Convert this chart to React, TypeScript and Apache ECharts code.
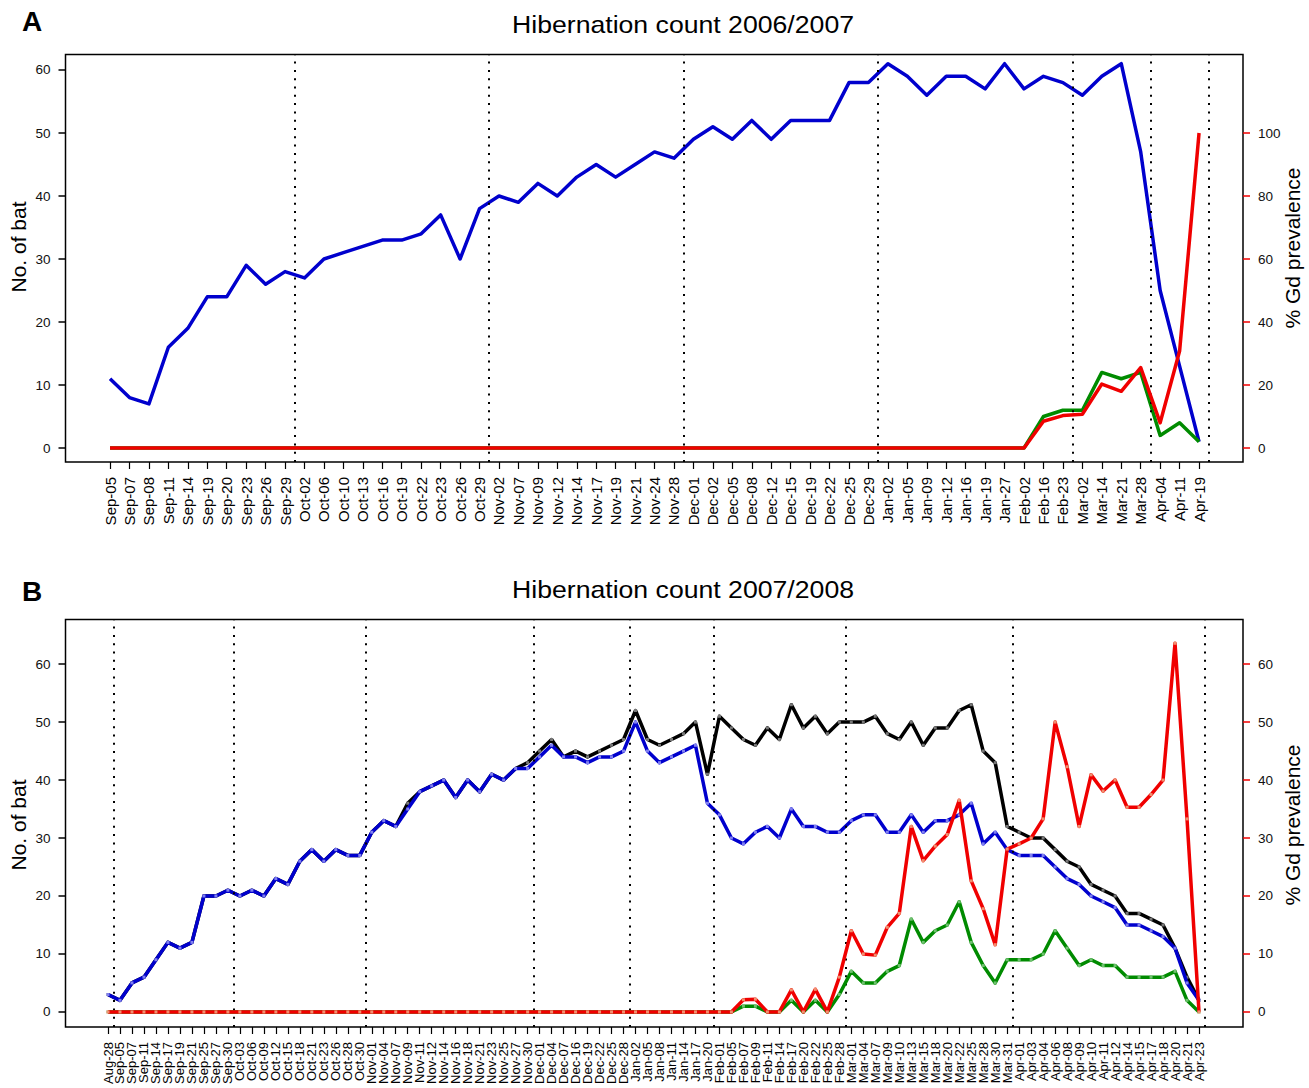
import React, { useEffect, useRef } from "react";
import * as echarts from "echarts";

const FONT = '"Liberation Sans", Arial, Helvetica, sans-serif';

// ---------- Panel A: 2006/2007 ----------
const catsA = [
  "Sep-05", "Sep-07", "Sep-08", "Sep-11", "Sep-14", "Sep-19", "Sep-20", "Sep-23", "Sep-26", "Sep-29",
  "Oct-02", "Oct-06", "Oct-10", "Oct-13", "Oct-16", "Oct-19", "Oct-22", "Oct-23", "Oct-26", "Oct-29",
  "Nov-02", "Nov-07", "Nov-09", "Nov-12", "Nov-14", "Nov-17", "Nov-19", "Nov-21", "Nov-24", "Nov-28",
  "Dec-01", "Dec-02", "Dec-05", "Dec-08", "Dec-12", "Dec-15", "Dec-19", "Dec-22", "Dec-25", "Dec-29",
  "Jan-02", "Jan-05", "Jan-09", "Jan-12", "Jan-16", "Jan-19", "Jan-27",
  "Feb-02", "Feb-16", "Feb-23",
  "Mar-02", "Mar-14", "Mar-21", "Mar-28",
  "Apr-04", "Apr-11", "Apr-19",
];
const batsA = [
  11, 8, 7, 16, 19, 24, 24, 29, 26, 28,
  27, 30, 31, 32, 33, 33, 34, 37, 30, 38,
  40, 39, 42, 40, 43, 45, 43, 45, 47, 46,
  49, 51, 49, 52, 49, 52, 52, 52, 58, 58,
  61, 59, 56, 59, 59, 57, 61,
  57, 59, 58,
  56, 59, 61, 47,
  25, 13, 1,
];
const infectedA = [
  0, 0, 0, 0, 0, 0, 0, 0, 0, 0,
  0, 0, 0, 0, 0, 0, 0, 0, 0, 0,
  0, 0, 0, 0, 0, 0, 0, 0, 0, 0,
  0, 0, 0, 0, 0, 0, 0, 0, 0, 0,
  0, 0, 0, 0, 0, 0, 0,
  0, 5, 6,
  6, 12, 11, 12,
  2, 4, 1,
];
const prevalenceA = [
  0, 0, 0, 0, 0, 0, 0, 0, 0, 0,
  0, 0, 0, 0, 0, 0, 0, 0, 0, 0,
  0, 0, 0, 0, 0, 0, 0, 0, 0, 0,
  0, 0, 0, 0, 0, 0, 0, 0, 0, 0,
  0, 0, 0, 0, 0, 0, 0,
  0, 8.5, 10.3,
  10.7, 20.3, 18.0, 25.5,
  8.0, 30.8, 100,
];
const boundsA = [9.5, 19.5, 29.5, 39.5, 49.5, 53.5, 56.5];

// ---------- Panel B: 2007/2008 ----------
const catsB = [
  "Aug-28",
  "Sep-05", "Sep-07", "Sep-11", "Sep-14", "Sep-17", "Sep-19", "Sep-21", "Sep-25", "Sep-27", "Sep-30",
  "Oct-03", "Oct-06", "Oct-09", "Oct-12", "Oct-15", "Oct-18", "Oct-21", "Oct-23", "Oct-26", "Oct-28", "Oct-30",
  "Nov-01", "Nov-04", "Nov-07", "Nov-09", "Nov-11", "Nov-12", "Nov-14", "Nov-16", "Nov-18", "Nov-21", "Nov-23", "Nov-25", "Nov-27", "Nov-30",
  "Dec-01", "Dec-04", "Dec-07", "Dec-16", "Dec-19", "Dec-22", "Dec-25", "Dec-28",
  "Jan-02", "Jan-05", "Jan-08", "Jan-11", "Jan-14", "Jan-17", "Jan-20",
  "Feb-01", "Feb-05", "Feb-07", "Feb-09", "Feb-11", "Feb-14", "Feb-17", "Feb-20", "Feb-22", "Feb-25", "Feb-28",
  "Mar-01", "Mar-04", "Mar-07", "Mar-09", "Mar-10", "Mar-13", "Mar-15", "Mar-18", "Mar-20", "Mar-22", "Mar-25", "Mar-28", "Mar-30", "Mar-31",
  "Apr-01", "Apr-03", "Apr-04", "Apr-06", "Apr-08", "Apr-09", "Apr-10", "Apr-11", "Apr-12", "Apr-14", "Apr-15", "Apr-17", "Apr-18", "Apr-20", "Apr-21", "Apr-23",
];
const totalB = [
  3, 2, 5, 6, 9, 12, 11, 12, 20, 20,
  21, 20, 21, 20, 23, 22, 26, 28, 26, 28,
  27, 27, 31, 33, 32, 36, 38, 39, 40, 37,
  40, 38, 41, 40, 42, 43, 45, 47, 44, 45,
  44, 45, 46, 47, 52, 47, 46, 47, 48, 50,
  41, 51, 49, 47, 46, 49, 47, 53, 49, 51,
  48, 50, 50, 50, 51, 48, 47, 50, 46, 49,
  49, 52, 53, 45, 43, 32, 31, 30, 30, 28,
  26, 25, 22, 21, 20, 17, 17, 16, 15, 11,
  6, 2,
];
const batsB = [
  3, 2, 5, 6, 9, 12, 11, 12, 20, 20,
  21, 20, 21, 20, 23, 22, 26, 28, 26, 28,
  27, 27, 31, 33, 32, 35, 38, 39, 40, 37,
  40, 38, 41, 40, 42, 42, 44, 46, 44, 44,
  43, 44, 44, 45, 50, 45, 43, 44, 45, 46,
  36, 34, 30, 29, 31, 32, 30, 35, 32, 32,
  31, 31, 33, 34, 34, 31, 31, 34, 31, 33,
  33, 34, 36, 29, 31, 28, 27, 27, 27, 25,
  23, 22, 20, 19, 18, 15, 15, 14, 13, 11,
  5, 2,
];
const infectedB = [
  0, 0, 0, 0, 0, 0, 0, 0, 0, 0,
  0, 0, 0, 0, 0, 0, 0, 0, 0, 0,
  0, 0, 0, 0, 0, 0, 0, 0, 0, 0,
  0, 0, 0, 0, 0, 0, 0, 0, 0, 0,
  0, 0, 0, 0, 0, 0, 0, 0, 0, 0,
  0, 0, 0, 1, 1, 0, 0, 2, 0, 2,
  0, 3, 7, 5, 5, 7, 8, 16, 12, 14,
  15, 19, 12, 8, 5, 9, 9, 9, 10, 14,
  11, 8, 9, 8, 8, 6, 6, 6, 6, 7,
  2, 0,
];
const prevalenceB = [
  0, 0, 0, 0, 0, 0, 0, 0, 0, 0,
  0, 0, 0, 0, 0, 0, 0, 0, 0, 0,
  0, 0, 0, 0, 0, 0, 0, 0, 0, 0,
  0, 0, 0, 0, 0, 0, 0, 0, 0, 0,
  0, 0, 0, 0, 0, 0, 0, 0, 0, 0,
  0, 0, 0, 2.1, 2.2, 0, 0, 3.8, 0, 3.9,
  0, 6, 14, 10, 9.8, 14.6, 17, 32, 26.1, 28.6,
  30.6, 36.5, 22.6, 17.8, 11.6, 28.1, 29, 30, 33.3, 50,
  42.3, 32, 40.9, 38.1, 40, 35.3, 35.3, 37.5, 40, 63.6,
  33.3, 0,
];
const boundsB = [0.5, 10.5, 21.5, 35.5, 43.5, 50.5, 61.5, 75.5, 91.5];

const leftTicksA = [0, 10, 20, 30, 40, 50, 60];
const rightTicksA = [0, 20, 40, 60, 80, 100];
const leftTicksB = [0, 10, 20, 30, 40, 50, 60];
const rightTicksB = [0, 10, 20, 30, 40, 50, 60];

const BLUE = "#0000CD";
const GREEN = "#008B00";
const RED = "#F00000";
const BLACK = "#000000";

const pairs = (arr: number[]) => arr.map((v, i) => [i, v]);
const idx = (arr: string[]) => arr.map((_, i) => i);

function xAxisDef(
  grid: number,
  cats: string[],
  min: number,
  max: number,
  fontSize: number,
  tickValues: number[],
  labelValues: number[],
  showTicks: boolean
) {
  return {
    type: "value",
    gridIndex: grid,
    position: "bottom",
    offset: 0,
    min,
    max,
    axisLine: { show: false, onZero: false },
    splitLine: { show: false },
    axisTick: {
      show: showTicks,
      length: 7,
      customValues: tickValues,
      lineStyle: { color: BLACK, width: 1.2 },
    },
    axisLabel: {
      show: true,
      customValues: labelValues,
      rotate: 90,
      margin: 15,
      fontSize,
      fontFamily: FONT,
      color: BLACK,
      showMinLabel: true,
      showMaxLabel: true,
      hideOverlap: false,
      formatter: (v: number) => cats[Math.round(v)] ?? "",
    },
  };
}

function yAxisDef(grid: number, pos: "left" | "right", min: number, max: number, ticks: number[], tickColor: string) {
  return {
    type: "value",
    gridIndex: grid,
    position: pos,
    min,
    max,
    axisLine: { show: false, onZero: false },
    splitLine: { show: false },
    axisTick: {
      show: true,
      length: 7,
      customValues: ticks,
      lineStyle: { color: tickColor, width: 1.5 },
    },
    axisLabel: {
      show: true,
      customValues: ticks,
      margin: 15,
      fontSize: 13.5,
      fontFamily: FONT,
      color: "#111",
      showMinLabel: true,
      showMaxLabel: true,
    },
  };
}

function dotted(bounds: number[]) {
  return {
    silent: true,
    symbol: ["none", "none"],
    label: { show: false },
    emphasis: { disabled: true },
    lineStyle: { color: BLACK, width: 2, type: [2, 6.3] },
    data: bounds.map((b) => ({ xAxis: b })),
  };
}

function lineSeries(
  name: string,
  data: number[],
  xi: number,
  yi: number,
  color: string,
  markerColor: string | null,
  z: number,
  extra: any = {}
) {
  return {
    type: "line",
    name,
    xAxisIndex: xi,
    yAxisIndex: yi,
    data: pairs(data),
    showSymbol: markerColor !== null,
    symbol: markerColor ? "rect" : "none",
    symbolSize: 3,
    itemStyle: { color: markerColor || color, borderWidth: 0 },
    lineStyle: { color, width: 3.5, join: "round" },
    emphasis: { disabled: true },
    silent: true,
    z,
    ...extra,
  };
}

function text(t: string, x: number, y: number, size: number, opts: any = {}) {
  return {
    type: "text",
    x,
    y,
    rotation: opts.rotation || 0,
    scaleX: opts.scaleX || 1,
    style: {
      text: t,
      fontSize: size,
      fontFamily: FONT,
      fontWeight: opts.bold ? "bold" : "normal",
      fill: BLACK,
      align: "center",
      verticalAlign: "middle",
      textAlign: "center",
      textVerticalAlign: "middle",
    },
  };
}

export default function App() {
  const ref = useRef<HTMLDivElement>(null);

  useEffect(() => {
    if (!ref.current) return;
    const chart = echarts.init(ref.current, null, { renderer: "svg" });
    const allA = idx(catsA);
    const allB = idx(catsB);
    const evenB = allB.filter((i) => i % 2 === 0);
    const oddB = allB.filter((i) => i % 2 === 1);
    const option: any = {
      animation: false,
      backgroundColor: "#ffffff",
      textStyle: { fontFamily: FONT },
      grid: [
        { left: 65.5, top: 54.5, width: 1177.5, height: 407.5, show: true, borderColor: BLACK, borderWidth: 1.5, backgroundColor: "transparent" },
        { left: 65.5, top: 619.5, width: 1177.5, height: 407.5, show: true, borderColor: BLACK, borderWidth: 1.5, backgroundColor: "transparent" },
      ],
      xAxis: [
        xAxisDef(0, catsA, -2.29, 58.26, 15, allA, allA, true),
        xAxisDef(1, catsB, -3.545, 94.67, 13, allB, evenB, true),
        xAxisDef(1, catsB, -3.545, 94.67, 13, allB, oddB, false),
      ],
      yAxis: [
        yAxisDef(0, "left", -2.22, 62.46, leftTicksA, BLACK),
        yAxisDef(0, "right", -4.44, 124.92, rightTicksA, RED),
        yAxisDef(1, "left", -2.6, 67.7, leftTicksB, BLACK),
        yAxisDef(1, "right", -2.6, 67.7, rightTicksB, RED),
      ],
      series: [
        lineSeries("No. of bat 2006/2007", batsA, 0, 0, BLUE, null, 3, { markLine: dotted(boundsA) }),
        lineSeries("Infected 2006/2007", infectedA, 0, 0, GREEN, null, 4),
        lineSeries("% Gd prevalence 2006/2007", prevalenceA, 0, 1, RED, null, 5),
        lineSeries("Total 2007/2008", totalB, 1, 2, BLACK, "#777777", 3, { markLine: dotted(boundsB) }),
        lineSeries("No. of bat 2007/2008", batsB, 1, 2, BLUE, "#8080F0", 4),
        lineSeries("Infected 2007/2008", infectedB, 1, 2, GREEN, "#70C070", 5),
        lineSeries("% Gd prevalence 2007/2008", prevalenceB, 1, 3, RED, "#F09070", 6),
      ],
      graphic: [
        text("A", 32, 21, 28, { bold: true }),
        text("Hibernation count 2006/2007", 683, 24, 24, { scaleX: 1.11 }),
        text("No. of bat", 18, 247, 21, { rotation: Math.PI / 2 }),
        text("% Gd prevalence", 1292, 248, 21, { rotation: Math.PI / 2 }),
        text("B", 32, 591, 28, { bold: true }),
        text("Hibernation count 2007/2008", 683, 589, 24, { scaleX: 1.11 }),
        text("No. of bat", 18, 825, 21, { rotation: Math.PI / 2 }),
        text("% Gd prevalence", 1292, 825, 21, { rotation: Math.PI / 2 }),
      ],
    };
    chart.setOption(option);
    return () => chart.dispose();
  }, []);

  return (
    <div
      ref={ref}
      style={{ position: "fixed", left: 0, top: 0, width: 1309, height: 1088, background: "#fff" }}
    />
  );
}
